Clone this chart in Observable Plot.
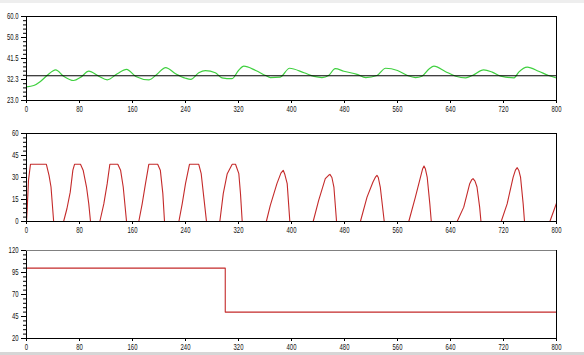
<!DOCTYPE html>
<html>
<head>
<meta charset="utf-8">
<script src="https://cdn.jsdelivr.net/npm/d3@7"></script>
<script src="https://cdn.jsdelivr.net/npm/@observablehq/plot@0.6"></script>
<style>
  html, body { margin: 0; padding: 0; background: #ffffff; width: 584px; height: 355px; overflow: hidden; position: relative; }
  #topband { position: absolute; left: 0; top: 0; width: 584px; height: 3px; background: #eeeeee; }
  #botband { position: absolute; left: 0; top: 352px; width: 584px; height: 3px; background: #d6d6d6; }
  #charts { position: absolute; left: 0; top: 0; }
  #charts svg { display: block; }
</style>
</head>
<body>
<div id="topband"></div>
<div id="botband"></div>
<div id="charts"></div>
<script>
// ---------- data ----------
const xTicks = [0, 80, 160, 240, 320, 400, 480, 560, 640, 720, 800];

// panel 1: temperature (green) and setpoint (black)
const y1Ticks = [23, 32.25, 41.5, 50.75, 60];
const y1Labels = ["23.0", "32.3", "41.5", "50.8", "60.0"];
const setpoint = 33.9;
const greenX = [0, 11, 21, 31, 39, 44, 56, 71, 82, 94, 109, 122, 137, 151, 165, 185, 197, 210, 225, 240, 248, 260, 270, 285, 295, 310, 320, 328, 346, 361, 368, 383, 397, 419, 434, 446, 456, 466, 479, 499, 512, 529, 542, 560, 575, 587, 597, 608, 615, 632, 648, 663, 673, 690, 703, 716, 736, 743, 756, 773, 788, 800];
const greenV = [29.0, 29.6, 31.4, 34.0, 35.9, 36.5, 33.7, 31.8, 33.3, 35.9, 33.7, 32.1, 34.8, 36.7, 33.6, 32.1, 34.6, 37.5, 34.8, 32.8, 32.3, 35.2, 36.2, 35.2, 33.0, 32.6, 36.2, 38.1, 36.2, 34.0, 33.1, 33.3, 37.2, 35.2, 33.6, 33.1, 34.0, 37.0, 35.9, 34.5, 33.1, 34.0, 37.2, 36.2, 34.0, 33.1, 33.7, 37.0, 38.1, 35.8, 33.7, 33.0, 34.0, 36.5, 35.5, 33.7, 33.0, 35.5, 37.7, 35.9, 34.0, 32.9];

// panel 2: heater output (red pulses)
const y2Ticks = [0, 15, 30, 45, 60];
const y2Labels = ["0", "15", "30", "45", "60"];
const redX = [0, 1, 3, 6, 30, 34, 37, 41, 56, 61, 66, 70, 72.5, 81.5, 85.5, 90.6, 94, 96.6, 110.7, 116.7, 121.8, 125.8, 137.8, 142, 146, 151, 169.5, 174.6, 179.6, 184.6, 198, 202, 205.8, 208.3, 230, 235, 240, 246, 260, 263.7, 267.6, 271.7, 291.8, 297, 303, 310.5, 315.5, 320.5, 323, 325.6, 362, 368, 378, 384, 387.5, 390, 393.5, 397.5, 432.7, 441, 451, 456, 458, 461, 464, 468, 504, 514, 523, 527, 529, 531, 534, 540, 577, 587, 594.7, 598, 600, 602, 604.8, 608.8, 611, 650, 660, 669, 672, 674, 677, 680, 684, 686, 716.5, 725.5, 734.6, 738, 740.7, 743, 745.7, 749.7, 751.7, 790, 796, 800];
const redV = [0, 8, 28, 39, 39, 31.5, 23.5, 0, 0, 8.7, 20, 35, 39, 39, 35, 23.5, 12, 0, 0, 12, 25.8, 39, 39, 35, 23.5, 0, 0, 12, 25.8, 39, 39, 35, 19, 0, 0, 12, 25.8, 39, 39, 32.6, 16.6, 0, 0, 19, 32.6, 39, 39, 32.6, 19, 0, 0, 11, 25.8, 33, 34.9, 32, 25.8, 0, 0, 14.4, 29.2, 31.5, 32.1, 30, 23.5, 0, 0, 16.6, 26.9, 30.5, 31.5, 30, 23.5, 0, 0, 16.6, 30.3, 36, 37.8, 36, 30.3, 12, 0, 0, 9.8, 25.8, 28.5, 29.2, 27.5, 23.5, 9.8, 0, 0, 12, 30.3, 35, 36.7, 35, 30.3, 12, 0, 0, 7.5, 12.5];

// panel 3: step (red)
const y3Ticks = [20, 45, 70, 95, 120];
const y3Labels = ["20", "45", "70", "95", "120"];
const stepX = [0, 300, 300, 800];
const stepV = [100, 100, 50, 50];

// ---------- helpers ----------
const toRows = (xs, vs) => xs.map((x, i) => ({x, v: vs[i]}));
function minorTicks(ticks) {
  const out = [];
  for (let i = 0; i < ticks.length - 1; i++) {
    const a = ticks[i], b = ticks[i + 1];
    for (let k = 1; k < 5; k++) out.push(a + (b - a) * k / 5);
  }
  return out;
}
const FONT = "Liberation Sans, Arial, sans-serif";
const W = 584, ML = 26, MR = 28;

function panel({height, marginTop, marginBottom, yDomain, yTicks, yLabels, marks, topColor}) {
  const labelMap = new Map(yTicks.map((t, i) => [t, yLabels[i]]));
  const plot = Plot.plot({
    width: W, height, marginTop, marginBottom, marginLeft: ML, marginRight: MR,
    style: {background: "transparent", fontFamily: FONT, fontSize: "8.5px", color: "#111", overflow: "visible"},
    x: {domain: [0, 800], label: null},
    y: {domain: yDomain, label: null},
    marks: [
      ...marks,
      Plot.frame({stroke: "#000"}),
      ...(topColor ? [Plot.ruleY([yDomain[1]], {stroke: topColor})] : []),
      Plot.axisY(minorTicks(yTicks), {tickSize: 3, tickFormat: () => "", label: null, stroke: "#000"}),
      Plot.axisY({ticks: yTicks, tickSize: 5, tickPadding: 3, tickFormat: d => labelMap.get(d), label: null, stroke: "#000", fill: "#111"}),
      Plot.axisX({ticks: xTicks, tickSize: 3, tickPadding: 2, tickFormat: d => String(d), label: null, stroke: "#000", fill: "#111"})
    ]
  });
  // condense tick labels horizontally around their anchor
  plot.querySelectorAll("text").forEach(t => {
    const fs = 8.5;
    const parse = s => s == null ? 0 : (String(s).endsWith("em") ? parseFloat(s) * fs : (parseFloat(s) || 0));
    const ax = parse(t.getAttribute("x")) + parse(t.getAttribute("dx"));
    const tr = t.getAttribute("transform") || "";
    t.setAttribute("transform", `${tr} translate(${ax},0) scale(0.7,1) translate(${-ax},0)`);
  });
  return plot;
}

const charts = document.getElementById("charts");

charts.appendChild(panel({
  height: 117, marginTop: 16, marginBottom: 17,
  yDomain: [23, 60], yTicks: y1Ticks, yLabels: y1Labels,
  marks: [
    Plot.line(toRows(greenX, greenV), {x: "x", y: "v", stroke: "#3fd03f", strokeWidth: 1.2, curve: "monotone-x"}),
    Plot.ruleY([setpoint], {stroke: "#000", strokeWidth: 1.1})
  ]
}));

charts.appendChild(panel({
  height: 121, marginTop: 16, marginBottom: 17,
  yDomain: [0, 60], yTicks: y2Ticks, yLabels: y2Labels,
  marks: [
    Plot.line(toRows(redX, redV), {x: "x", y: "v", stroke: "#c42a2a", strokeWidth: 1.1})
  ]
}));

charts.appendChild(panel({
  height: 117, marginTop: 12, marginBottom: 17,
  yDomain: [20, 120], yTicks: y3Ticks, yLabels: y3Labels, topColor: "#808080",
  marks: [
    Plot.line(toRows(stepX, stepV), {x: "x", y: "v", stroke: "#c42a2a", strokeWidth: 1.1})
  ]
}));
</script>
</body>
</html>
